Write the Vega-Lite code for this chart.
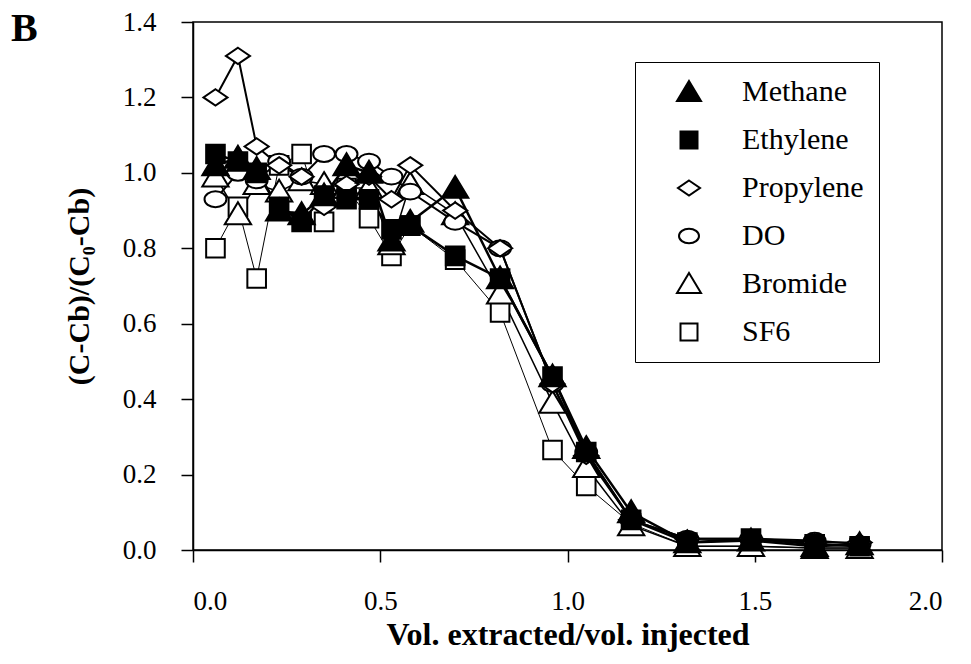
{
  "$schema": "https://vega.github.io/schema/vega-lite/v6.json",
  "width": 749,
  "height": 528,
  "autosize": {"type": "none"},
  "padding": {"left": 193, "top": 22, "right": 29, "bottom": 114},
  "background": "white",
  "title": {"text": "B", "anchor": "start", "frame": "group", "orient": "top", "offset": 0, "dx": -182, "dy": 41, "fontSize": 40, "font": "Liberation Serif", "fontWeight": "bold", "color": "black"},
  "config": {
    "font": "Liberation Serif",
    "view": {"stroke": "black", "strokeWidth": 1.5},
    "legend": {"symbolStrokeColor": "black", "symbolStrokeWidth": 2},
    "axis": {"grid": false, "domainColor": "black", "domainWidth": 1.5, "tickColor": "black", "tickWidth": 1.5, "tickSize": 12, "labelColor": "black", "labelFont": "Liberation Serif", "labelFontSize": 27, "titleColor": "black", "titleFont": "Liberation Serif", "titleFontSize": 30, "titleFontWeight": "bold"}
  },
  "data": {"values": [
    {"series": "SF6", "x": 0.06, "y": 0.80}, {"series": "SF6", "x": 0.12, "y": 0.91}, {"series": "SF6", "x": 0.17, "y": 0.72}, {"series": "SF6", "x": 0.23, "y": 1.02}, {"series": "SF6", "x": 0.29, "y": 1.05}, {"series": "SF6", "x": 0.35, "y": 0.87}, {"series": "SF6", "x": 0.41, "y": 0.96}, {"series": "SF6", "x": 0.47, "y": 0.88}, {"series": "SF6", "x": 0.53, "y": 0.78}, {"series": "SF6", "x": 0.58, "y": 0.86}, {"series": "SF6", "x": 0.70, "y": 0.77}, {"series": "SF6", "x": 0.82, "y": 0.63}, {"series": "SF6", "x": 0.96, "y": 0.265}, {"series": "SF6", "x": 1.05, "y": 0.17}, {"series": "SF6", "x": 1.17, "y": 0.07}, {"series": "SF6", "x": 1.32, "y": 0.01}, {"series": "SF6", "x": 1.49, "y": 0.01}, {"series": "SF6", "x": 1.66, "y": 0.005}, {"series": "SF6", "x": 1.78, "y": 0.005},
    {"series": "Bromide", "x": 0.06, "y": 0.99}, {"series": "Bromide", "x": 0.12, "y": 0.89}, {"series": "Bromide", "x": 0.17, "y": 0.97}, {"series": "Bromide", "x": 0.23, "y": 0.95}, {"series": "Bromide", "x": 0.29, "y": 0.98}, {"series": "Bromide", "x": 0.35, "y": 0.97}, {"series": "Bromide", "x": 0.41, "y": 0.96}, {"series": "Bromide", "x": 0.47, "y": 0.96}, {"series": "Bromide", "x": 0.53, "y": 0.81}, {"series": "Bromide", "x": 0.58, "y": 0.97}, {"series": "Bromide", "x": 0.70, "y": 0.89}, {"series": "Bromide", "x": 0.82, "y": 0.68}, {"series": "Bromide", "x": 0.96, "y": 0.39}, {"series": "Bromide", "x": 1.05, "y": 0.22}, {"series": "Bromide", "x": 1.17, "y": 0.065}, {"series": "Bromide", "x": 1.32, "y": 0.01}, {"series": "Bromide", "x": 1.49, "y": 0.01}, {"series": "Bromide", "x": 1.66, "y": 0.005}, {"series": "Bromide", "x": 1.78, "y": 0.005},
    {"series": "DO", "x": 0.06, "y": 0.93}, {"series": "DO", "x": 0.12, "y": 1.00}, {"series": "DO", "x": 0.17, "y": 0.98}, {"series": "DO", "x": 0.23, "y": 1.03}, {"series": "DO", "x": 0.29, "y": 0.99}, {"series": "DO", "x": 0.35, "y": 1.05}, {"series": "DO", "x": 0.41, "y": 1.05}, {"series": "DO", "x": 0.47, "y": 1.03}, {"series": "DO", "x": 0.53, "y": 0.99}, {"series": "DO", "x": 0.58, "y": 0.95}, {"series": "DO", "x": 0.70, "y": 0.87}, {"series": "DO", "x": 0.82, "y": 0.80}, {"series": "DO", "x": 0.96, "y": 0.44}, {"series": "DO", "x": 1.05, "y": 0.26}, {"series": "DO", "x": 1.17, "y": 0.08}, {"series": "DO", "x": 1.32, "y": 0.03}, {"series": "DO", "x": 1.49, "y": 0.03}, {"series": "DO", "x": 1.66, "y": 0.025}, {"series": "DO", "x": 1.78, "y": 0.015},
    {"series": "Propylene", "x": 0.06, "y": 1.20}, {"series": "Propylene", "x": 0.12, "y": 1.31}, {"series": "Propylene", "x": 0.17, "y": 1.07}, {"series": "Propylene", "x": 0.23, "y": 1.02}, {"series": "Propylene", "x": 0.29, "y": 0.99}, {"series": "Propylene", "x": 0.35, "y": 0.91}, {"series": "Propylene", "x": 0.41, "y": 0.97}, {"series": "Propylene", "x": 0.47, "y": 0.99}, {"series": "Propylene", "x": 0.53, "y": 0.93}, {"series": "Propylene", "x": 0.58, "y": 1.02}, {"series": "Propylene", "x": 0.70, "y": 0.90}, {"series": "Propylene", "x": 0.82, "y": 0.80}, {"series": "Propylene", "x": 0.96, "y": 0.44}, {"series": "Propylene", "x": 1.05, "y": 0.25}, {"series": "Propylene", "x": 1.17, "y": 0.08}, {"series": "Propylene", "x": 1.32, "y": 0.03}, {"series": "Propylene", "x": 1.49, "y": 0.03}, {"series": "Propylene", "x": 1.66, "y": 0.02}, {"series": "Propylene", "x": 1.78, "y": 0.02},
    {"series": "Ethylene", "x": 0.06, "y": 1.05}, {"series": "Ethylene", "x": 0.12, "y": 1.03}, {"series": "Ethylene", "x": 0.17, "y": 1.00}, {"series": "Ethylene", "x": 0.23, "y": 0.91}, {"series": "Ethylene", "x": 0.29, "y": 0.87}, {"series": "Ethylene", "x": 0.35, "y": 0.94}, {"series": "Ethylene", "x": 0.41, "y": 0.93}, {"series": "Ethylene", "x": 0.47, "y": 0.93}, {"series": "Ethylene", "x": 0.53, "y": 0.85}, {"series": "Ethylene", "x": 0.58, "y": 0.86}, {"series": "Ethylene", "x": 0.70, "y": 0.78}, {"series": "Ethylene", "x": 0.82, "y": 0.72}, {"series": "Ethylene", "x": 0.96, "y": 0.46}, {"series": "Ethylene", "x": 1.05, "y": 0.26}, {"series": "Ethylene", "x": 1.17, "y": 0.08}, {"series": "Ethylene", "x": 1.32, "y": 0.02}, {"series": "Ethylene", "x": 1.49, "y": 0.03}, {"series": "Ethylene", "x": 1.66, "y": 0.015}, {"series": "Ethylene", "x": 1.78, "y": 0.01},
    {"series": "Methane", "x": 0.06, "y": 1.02}, {"series": "Methane", "x": 0.12, "y": 1.04}, {"series": "Methane", "x": 0.17, "y": 1.01}, {"series": "Methane", "x": 0.23, "y": 0.90}, {"series": "Methane", "x": 0.29, "y": 0.89}, {"series": "Methane", "x": 0.35, "y": 0.94}, {"series": "Methane", "x": 0.41, "y": 1.02}, {"series": "Methane", "x": 0.47, "y": 1.00}, {"series": "Methane", "x": 0.53, "y": 0.82}, {"series": "Methane", "x": 0.58, "y": 0.87}, {"series": "Methane", "x": 0.70, "y": 0.96}, {"series": "Methane", "x": 0.82, "y": 0.72}, {"series": "Methane", "x": 0.96, "y": 0.46}, {"series": "Methane", "x": 1.05, "y": 0.27}, {"series": "Methane", "x": 1.17, "y": 0.10}, {"series": "Methane", "x": 1.32, "y": 0.02}, {"series": "Methane", "x": 1.49, "y": 0.025}, {"series": "Methane", "x": 1.66, "y": 0.01}, {"series": "Methane", "x": 1.78, "y": 0.015}
  ]},
  "encoding": {
    "x": {"field": "x", "type": "quantitative", "scale": {"domain": [0, 2], "nice": false}, "axis": {"values": [0, 0.5, 1, 1.5, 2], "format": ".1f", "labelPadding": 26, "title": "Vol. extracted/vol. injected", "titlePadding": 5, "titleFontSize": 32}},
    "y": {"field": "y", "type": "quantitative", "scale": {"domain": [0, 1.4], "nice": false}, "axis": {"values": [0, 0.2, 0.4, 0.6, 0.8, 1.0, 1.2, 1.4], "format": ".1f", "labelPadding": 25, "title": "(C-Cb)/(C₀-Cb)", "titlePadding": 28}}
  },
  "layer": [
    {
      "transform": [{"filter": {"field": "series", "oneOf": ["SF6"]}}],
      "mark": {"type": "line", "color": "black", "strokeWidth": 1},
      "encoding": {"detail": {"field": "series", "type": "nominal"}, "order": {"field": "x", "type": "quantitative"}}
    },
    {
      "transform": [{"filter": {"field": "series", "oneOf": ["Bromide"]}}],
      "mark": {"type": "line", "color": "black", "strokeWidth": 1.5},
      "encoding": {"detail": {"field": "series", "type": "nominal"}, "order": {"field": "x", "type": "quantitative"}}
    },
    {
      "transform": [{"filter": {"field": "series", "oneOf": ["DO", "Propylene"]}}],
      "mark": {"type": "line", "color": "black", "strokeWidth": 2},
      "encoding": {"detail": {"field": "series", "type": "nominal"}, "order": {"field": "x", "type": "quantitative"}}
    },
    {
      "transform": [{"filter": {"field": "series", "oneOf": ["Ethylene", "Methane"]}}],
      "mark": {"type": "line", "color": "black", "strokeWidth": 2.5},
      "encoding": {"detail": {"field": "series", "type": "nominal"}, "order": {"field": "x", "type": "quantitative"}}
    },
    {
      "mark": {"type": "point", "strokeWidth": 2, "opacity": 1, "size": 480},
      "encoding": {
        "shape": {"field": "series", "type": "nominal", "scale": {"domain": ["Methane", "Ethylene", "Propylene", "DO", "Bromide", "SF6"], "range": ["M0,-1.1L1.2,0.9H-1.2Z", "M-0.85,-0.85H0.85V0.85H-0.85Z", "M0,-0.75L1.1,0L0,0.75L-1.1,0Z", "M-1,0A1,0.72,0,1,0,1,0A1,0.72,0,1,0,-1,0Z", "M0,-1.1L1.2,0.9H-1.2Z", "M-0.85,-0.85H0.85V0.85H-0.85Z"]},
          "legend": {"title": null, "orient": "none", "legendX": 442, "legendY": 40, "strokeColor": "black", "fillColor": "white", "padding": 15, "rowPadding": 18, "symbolSize": 400, "symbolOffset": 24, "labelOffset": 38, "labelFontSize": 30, "labelFont": "Liberation Serif", "labelColor": "black", "symbolStrokeWidth": 2,
            "encode": {"symbols": {"shape": {"condition": [
              {"test": "datum.value === 'Methane' || datum.value === 'Bromide'", "value": "M-3.6,0.2H-0.6M0.6,0.2H3.6M0,-1.1L1.2,0.9H-1.2Z"},
              {"test": "datum.value === 'DO'", "value": "M-3.6,0H-1M1,0H3.6M-1,0A1,0.72,0,1,0,1,0A1,0.72,0,1,0,-1,0Z"},
              {"test": "datum.value === 'Propylene'", "value": "M-3.6,0H-1.1M1.1,0H3.6M0,-0.75L1.1,0L0,0.75L-1.1,0Z"}],
              "value": "M-3.6,0H-0.85M0.85,0H3.6M-0.85,-0.85H0.85V0.85H-0.85Z"}}}}},
        "fill": {"field": "series", "type": "nominal", "scale": {"domain": ["Methane", "Ethylene", "Propylene", "DO", "Bromide", "SF6"], "range": ["black", "black", "white", "white", "white", "white"]},
          "legend": {"title": null, "orient": "none", "legendX": 442, "legendY": 40, "strokeColor": "black", "fillColor": "white", "padding": 15, "rowPadding": 18, "symbolSize": 400, "symbolOffset": 24, "labelOffset": 38, "labelFontSize": 30, "labelFont": "Liberation Serif", "labelColor": "black", "symbolStrokeWidth": 2}},
        "stroke": {"field": "series", "type": "nominal", "scale": {"domain": ["Methane", "Ethylene", "Propylene", "DO", "Bromide", "SF6"], "range": ["black", "black", "black", "black", "black", "black"]},
          "legend": {"title": null, "orient": "none", "legendX": 442, "legendY": 40, "strokeColor": "black", "fillColor": "white", "padding": 15, "rowPadding": 18, "symbolSize": 400, "symbolOffset": 24, "labelOffset": 38, "labelFontSize": 30, "labelFont": "Liberation Serif", "labelColor": "black", "symbolStrokeWidth": 2}}
      }
    }
  ]
}
